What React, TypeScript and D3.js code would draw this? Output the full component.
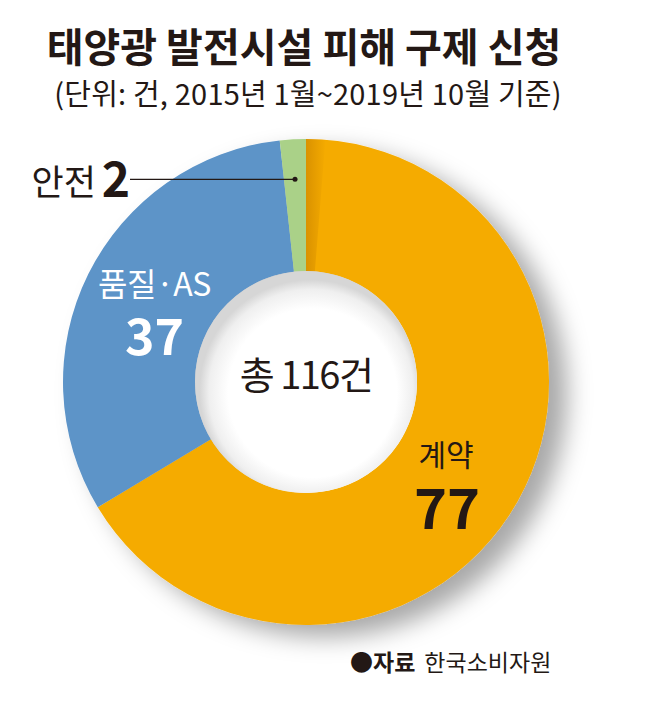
import React from "react";
import * as d3 from "d3";

const categories = ["계약", "품질·AS", "안전"];
const values = [77, 37, 2];
const colors = ["#F5AB00", "#5D94C8", "#AAD188"];
const totalLabel = "총 116건";
const title = "태양광 발전시설 피해 구제 신청";
const subtitle = "(단위: 건, 2015년 1월~2019년 10월 기준)";
const sourceBold = "●자료";
const sourceText = "한국소비자원";

const W = 659;
const H = 702;
const cx = 306;
const cy = 382;
const R = 243;
const r = 111;
const FONT = "'Noto Sans CJK KR', 'Noto Sans', sans-serif";
const INK = "#231815";

export default function App() {
  const pie = d3.pie<number>().sort(null).value((d) => d);
  const arcs = pie(values);
  const arc = d3.arc<d3.PieArcDatum<number>>().innerRadius(r).outerRadius(R);
  const shade = d3.arc()({ innerRadius: r, outerRadius: R, startAngle: 0, endAngle: 0.08 } as any);

  const c0 = arc.centroid(arcs[0]);
  const c1 = arc.centroid(arcs[1]);
  const g = arcs[2];
  const gMid = (g.startAngle + g.endAngle) / 2;
  const dotR = 203;
  const dot = [Math.sin(gMid) * dotR, -Math.cos(gMid) * dotR];

  return (
    <div style={{ position: "absolute", left: 0, top: 0 }}>
      <svg width={W} height={H} style={{ display: "block", background: "#fff" }}>
        <defs>
          <filter id="ds" x="-20%" y="-20%" width="150%" height="150%">
            <feDropShadow dx="18" dy="12" stdDeviation="12" floodColor="#000" floodOpacity="0.34" />
          </filter>
          <radialGradient id="hole" cx="52%" cy="54%" r="50%" fx="56%" fy="58%">
            <stop offset="0%" stopColor="#ffffff" />
            <stop offset="76%" stopColor="#ffffff" />
            <stop offset="92%" stopColor="#efefef" />
            <stop offset="100%" stopColor="#d6d6d6" />
          </radialGradient>
          <linearGradient id="band" gradientUnits="userSpaceOnUse" x1="0" y1="0" x2="20" y2="0">
            <stop offset="0%" stopColor="#B87300" stopOpacity="0.45" />
            <stop offset="100%" stopColor="#B87300" stopOpacity="0" />
          </linearGradient>
        </defs>

        <text x={304} y={62} textAnchor="middle" fontFamily={FONT} fontWeight={700} fontSize={40} fill={INK}>
          {title}
        </text>
        <text x={308} y={105} textAnchor="middle" fontFamily={FONT} fontWeight={400} fontSize={29} fill={INK} letterSpacing={0.2}>
          {subtitle}
        </text>

        <g transform={`translate(${cx},${cy})`}>
          <g filter="url(#ds)">
            {arcs.map((a, i) => (
              <path key={categories[i]} d={arc(a) || ""} fill={colors[i]} />
            ))}
          </g>
          <path d={shade || ""} fill="url(#band)" />
          <circle r={r} fill="url(#hole)" />
          <text x={0} y={7} textAnchor="middle" fontFamily={FONT} fontSize={38} fill={INK} letterSpacing={-1.5}>
            {totalLabel}
          </text>

          <text x={c0[0] - 14} y={c0[1] - 3} textAnchor="middle" fontFamily={FONT} fontSize={30} fill={INK}>
            {categories[0]}
          </text>
          <text x={c0[0] - 13} y={c0[1] + 60} textAnchor="middle" fontFamily={FONT} fontWeight={700} fontSize={56} fill={INK}>
            {values[0]}
          </text>

          <text x={c1[0] + 7} y={c1[1] - 7} textAnchor="middle" fontFamily={FONT} fontSize={32} fill="#fff" letterSpacing={-0.5}>
            {categories[1]}
          </text>
          <text x={c1[0] + 7} y={c1[1] + 52} textAnchor="middle" fontFamily={FONT} fontWeight={700} fontSize={50} fill="#fff">
            {values[1]}
          </text>

          <line x1={-176} y1={dot[1]} x2={dot[0]} y2={dot[1]} stroke={INK} strokeWidth={1.2} />
          <circle cx={dot[0]} cy={dot[1]} r={2.5} fill={INK} />
          <text x={-210} y={dot[1] + 16} textAnchor="end" fontFamily={FONT} fontSize={35} fill={INK}>
            {categories[2]}
          </text>
          <text x={-190} y={dot[1] + 18} textAnchor="middle" fontFamily={FONT} fontWeight={700} fontSize={48} fill={INK}>
            {values[2]}
          </text>
        </g>

        <text x={350} y={671} fontFamily={FONT} fontSize={23} fill={INK}>
          <tspan fontWeight={700}>{sourceBold}</tspan>
          <tspan dx={9}>{sourceText}</tspan>
        </text>
      </svg>
    </div>
  );
}
